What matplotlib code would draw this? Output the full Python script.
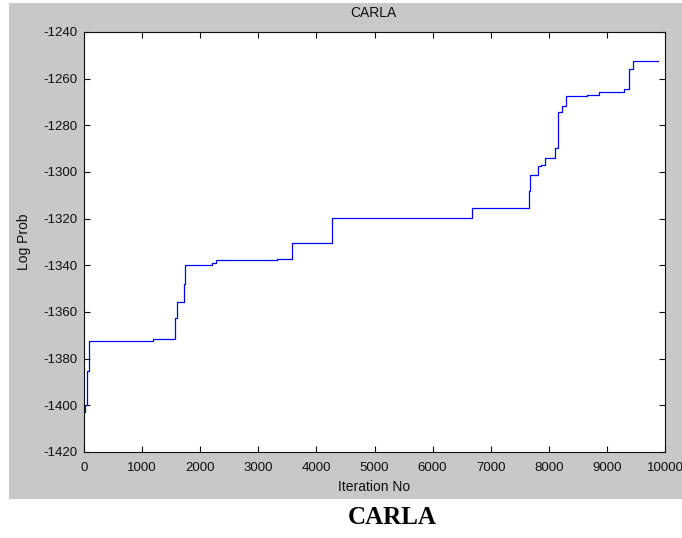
import matplotlib
matplotlib.use("Agg")
from matplotlib import pyplot as plt
from matplotlib.patches import Rectangle

# step points (iteration, log prob)
iters = [0, 20, 45, 91, 1193, 1566, 1606, 1721, 1738, 2197, 2266, 3327,
         3575, 4274, 6683, 7659, 7671, 7809, 7866, 7940, 8107, 8150, 8230,
         8290, 8663, 8864, 9300, 9386, 9444, 9874]
logprob = [-1403, -1400, -1385.3, -1372.4, -1371.4, -1362.6, -1355.6, -1348.1,
           -1339.9, -1339.0, -1337.9, -1337.4, -1330.6, -1319.6, -1315.4,
           -1308.1, -1301.3, -1297.4, -1296.9, -1293.9, -1289.6, -1274.4,
           -1271.8, -1267.6, -1267.0, -1265.6, -1264.6, -1256.0, -1252.3,
           -1252.3]
xticks = list(range(0, 10001, 1000))
yticks = list(range(-1420, -1239, 20))

plt.rcParams['font.family'] = ['Liberation Sans', 'DejaVu Sans']
plt.rcParams['axes.unicode_minus'] = False

fig = plt.figure(figsize=(6.82, 5.38), dpi=100)
fig.patch.set_facecolor('white')
fig.patches.append(Rectangle((9 / 682, 1 - 499 / 538), 1 - 9 / 682, 496 / 538,
                             transform=fig.transFigure, facecolor='#c8c8c8',
                             edgecolor='none', zorder=-5))

ax = fig.add_axes([84 / 682, 1 - 452 / 538, 581 / 682, 420 / 538])
ax.set_facecolor('white')
ax.step(iters, logprob, where='post', color='#0000ff', linewidth=0.9)

ax.set_xlim(0, 10000)
ax.set_ylim(-1420, -1240)
ax.set_xticks(xticks)
ax.set_yticks(yticks)
ax.tick_params(direction='in', length=4.5, width=0.8, top=True, right=True,
               labelsize=9.5, colors='#101010')
ax.tick_params(axis='x', pad=7)
ax.tick_params(axis='y', pad=5)
for s in ax.spines.values():
    s.set_color('#101010')
    s.set_linewidth(0.8)

ax.set_xlabel('Iteration No', fontsize=10, va='center', color='#101010')
ax.xaxis.set_label_coords(0.5, -35 / 420)
ax.set_ylabel('Log Prob', fontsize=10, va='center', color='#101010')
ax.yaxis.set_label_coords(-60 / 581, 0.5)

fig.text(373 / 682, 1 - 13 / 538, 'CARLA', ha='center', va='center',
         fontsize=10, color='#101010')
fig.text(392 / 682, 1 - 518 / 538, 'CARLA', ha='center', va='center',
         fontsize=18, fontweight='bold', family='Liberation Serif')

plt.savefig('out.png', dpi=100)
